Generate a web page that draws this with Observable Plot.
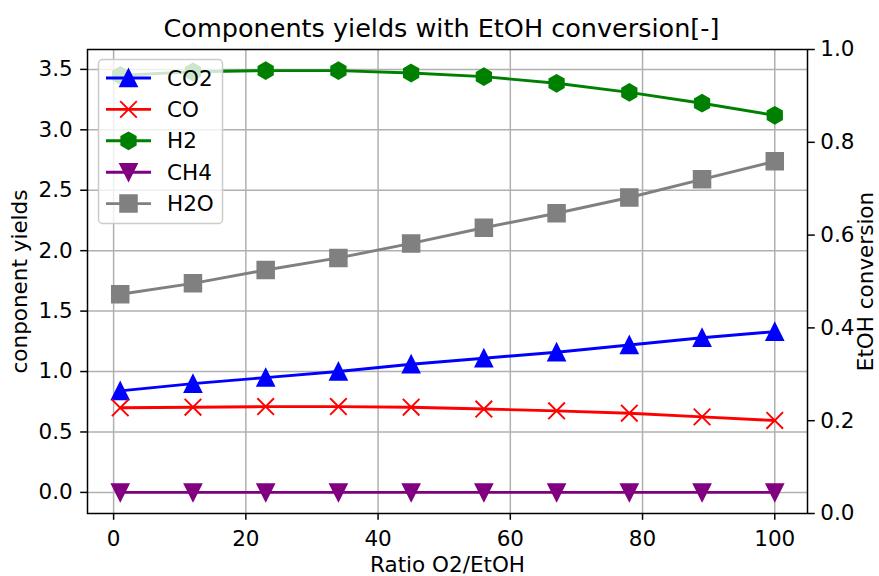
<!DOCTYPE html>
<html>
<head>
<meta charset="utf-8">
<script src="https://cdn.jsdelivr.net/npm/d3@7"></script>
<script src="https://cdn.jsdelivr.net/npm/@observablehq/plot@0.6"></script>
<style>
  html, body { margin: 0; padding: 0; background: #fff; }
  #chart svg { display: block; font-family: "DejaVu Sans", sans-serif; }
</style>
</head>
<body>
<div id="chart"></div>
<script>
// ---- data ----
const ratio = [1, 12, 23, 34, 45, 56, 67, 78, 89, 100];
const co2 = [0.84, 0.90, 0.95, 1.00, 1.06, 1.11, 1.16, 1.22, 1.28, 1.33];
const co  = [0.70, 0.705, 0.71, 0.71, 0.705, 0.69, 0.675, 0.655, 0.625, 0.595];
const h2  = [3.45, 3.48, 3.49, 3.49, 3.47, 3.44, 3.385, 3.31, 3.22, 3.12];
const ch4 = [0, 0, 0, 0, 0, 0, 0, 0, 0, 0];
const h2o = [1.64, 1.73, 1.84, 1.94, 2.06, 2.19, 2.31, 2.44, 2.59, 2.74];
const seriesNames = ["CO2", "CO", "H2", "CH4", "H2O"];
const seriesColors = ["blue", "red", "green", "purple", "gray"];
const xTicks = [0, 20, 40, 60, 80, 100];
const yTicks = [0, 0.5, 1.0, 1.5, 2.0, 2.5, 3.0, 3.5];
const rightTicks = [0, 0.2, 0.4, 0.6, 0.8, 1.0];
const title = "Components yields with EtOH conversion[-]";
const xLabel = "Ratio O2/EtOH";
const yLabel = "conponent yields";
const y2Label = "EtOH conversion";

// ---- symbols (matplotlib-like) ----
const half = s => Math.sqrt(s / Math.PI);
const triUp = { draw(c, size) { const s = half(size); c.moveTo(0, -s); c.lineTo(s, s); c.lineTo(-s, s); c.closePath(); } };
const triDown = { draw(c, size) { const s = half(size); c.moveTo(0, s); c.lineTo(s, -s); c.lineTo(-s, -s); c.closePath(); } };
const xMark = { draw(c, size) { const s = half(size); c.moveTo(-s, -s); c.lineTo(s, s); c.moveTo(-s, s); c.lineTo(s, -s); } };
const hexa = { draw(c, size) { const s = half(size); for (let i = 0; i < 6; i++) { const a = (-90 + 60 * i) * Math.PI / 180; const px = s * Math.cos(a), py = s * Math.sin(a); if (i === 0) c.moveTo(px, py); else c.lineTo(px, py); } c.closePath(); } };
const sq = { draw(c, size) { const s = half(size); c.moveTo(-s, -s); c.lineTo(s, -s); c.lineTo(s, s); c.lineTo(-s, s); c.closePath(); } };
const symbols = [triUp, xMark, hexa, triDown, sq];
const filled = [true, false, true, true, true];
const values = [co2, co, h2, ch4, h2o];

const series = seriesNames.map((name, i) => ({
  name, color: seriesColors[i], symbol: symbols[i], filled: filled[i],
  data: ratio.map((x, j) => ({ x, y: values[i][j] }))
}));

// ---- scales ----
const xr = ratio[ratio.length - 1] - ratio[0];
const xDom = [ratio[0] - 0.05 * xr, ratio[ratio.length - 1] + 0.05 * xr];
const allY = values.flat();
const yMin = d3.min(allY), yMax = d3.max(allY);
const yDom = [yMin - 0.05 * (yMax - yMin), yMax + 0.05 * (yMax - yMin)];
const toLeft = v => yDom[0] + v * (yDom[1] - yDom[0]);
const fromLeft = d => (d - yDom[0]) / (yDom[1] - yDom[0]);

const FS = 21.5;
const R = 8.3;
const centered = { textAnchor: "middle", lineAnchor: "middle", fill: "black" };

const marks = [
  Plot.gridX(xTicks, { stroke: "#b0b0b0", strokeOpacity: 1, strokeWidth: 1.5 }),
  Plot.gridY(yTicks, { stroke: "#b0b0b0", strokeOpacity: 1, strokeWidth: 1.5 }),
];
for (const s of series) {
  marks.push(Plot.line(s.data, { x: "x", y: "y", stroke: s.color, strokeWidth: 2.9 }));
  marks.push(Plot.dot(s.data, {
    x: "x", y: "y", r: R, symbol: s.symbol,
    fill: s.filled ? s.color : "none", stroke: s.color, strokeWidth: 1.9
  }));
}
marks.push(
  Plot.frame({ stroke: "black", strokeWidth: 1.5 }),
  Plot.axisX(xTicks, { tickSize: 6.8, tickPadding: 10, fontSize: FS, label: null, stroke: "black", strokeWidth: 1.5 }),
  Plot.axisY(yTicks, { tickSize: 6.8, tickPadding: 8, fontSize: FS, label: null, tickFormat: d3.format(".1f"), strokeWidth: 1.5 }),
  Plot.axisY(rightTicks.map(toLeft), { anchor: "right", tickSize: 6.8, tickPadding: 6, fontSize: FS, label: null, tickFormat: d => fromLeft(d).toFixed(1), strokeWidth: 1.5 }),
  Plot.text([title], { text: d => d, frameAnchor: "top", dy: -21, dx: -6, fontSize: 25.5, ...centered }),
  Plot.text([xLabel], { text: d => d, frameAnchor: "bottom", dy: 52, fontSize: FS, ...centered }),
  Plot.text([yLabel], { text: d => d, frameAnchor: "left", dx: -67, rotate: -90, fontSize: FS, ...centered }),
  Plot.text([y2Label], { text: d => d, frameAnchor: "right", dx: 59, rotate: -90, fontSize: FS, ...centered })
);

const chart = Plot.plot({
  width: 879, height: 576,
  marginTop: 49, marginBottom: 63, marginLeft: 87, marginRight: 72,
  style: { fontFamily: "DejaVu Sans", fontSize: FS + "px", color: "black", background: "white" },
  x: { domain: xDom },
  y: { domain: yDom },
  marks
});
document.getElementById("chart").appendChild(chart);

// ---- legend (upper left, inside axes) ----
const svg = d3.select(chart);
const lg = svg.append("g").attr("transform", "translate(98,59)");
lg.append("rect").attr("x", 0.5).attr("y", 0.5).attr("width", 124).attr("height", 164).attr("rx", 4)
  .attr("fill", "white").attr("fill-opacity", 0.8).attr("stroke", "#cccccc").attr("stroke-width", 1.5);
series.forEach((s, i) => {
  const cy = 19 + i * 31.4;
  const g = lg.append("g").attr("transform", `translate(0,${cy})`);
  g.append("line").attr("x1", 8).attr("x2", 53).attr("y1", 0).attr("y2", 0).attr("stroke", s.color).attr("stroke-width", 2.9);
  g.append("path").attr("transform", "translate(30.5,0)")
    .attr("d", d3.symbol(s.symbol, Math.PI * R * R)())
    .attr("fill", s.filled ? s.color : "none").attr("stroke", s.color).attr("stroke-width", 1.9);
  g.append("text").attr("x", 69).attr("y", 0).attr("dy", "0.35em").attr("text-anchor", "start")
    .attr("font-size", FS).attr("fill", "black").text(s.name);
});
</script>
</body>
</html>
